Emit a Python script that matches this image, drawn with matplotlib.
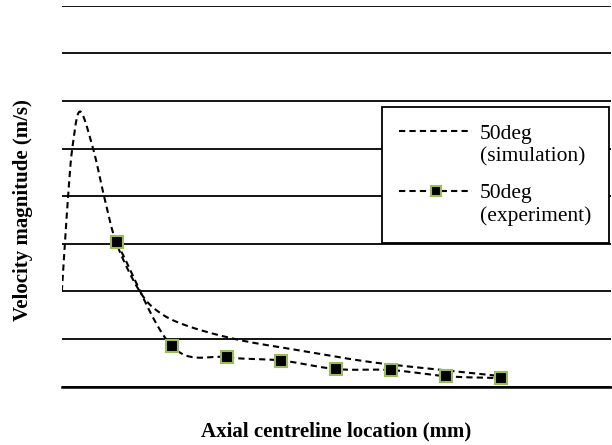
import matplotlib.pyplot as plt
import numpy as np

# Values (grid step = 1 unit, no tick labels shown)
sim_x = [0.0, 0.055, 0.115, 0.19, 0.33, 0.57, 0.77, 1.0, 1.42, 1.79, 2.33, 3.24, 4.34, 5.61, 6.94, 8.1]
sim_y = [2.0, 3.0, 4.0, 5.0, 5.78, 5.0, 4.0, 3.0, 2.0, 1.55, 1.26, 0.98, 0.76, 0.52, 0.35, 0.21]

exp_x = [1, 2, 3, 4, 5, 6, 7, 8]
exp_y = [3.03, 0.86, 0.62, 0.55, 0.37, 0.35, 0.22, 0.18]


def smooth(x, y, n=30):
    # Catmull-Rom curve through the points, like Excel's smoothed line
    x = np.asarray(x, float)
    y = np.asarray(y, float)
    px = np.concatenate([[2 * x[0] - x[1]], x, [2 * x[-1] - x[-2]]])
    py = np.concatenate([[2 * y[0] - y[1]], y, [2 * y[-1] - y[-2]]])
    t = np.linspace(0, 1, n)
    xs, ys = [], []
    for i in range(1, len(px) - 2):
        for p, out in ((px, xs), (py, ys)):
            p0, p1, p2, p3 = p[i - 1], p[i], p[i + 1], p[i + 2]
            out.extend(0.5 * (2 * p1 + (-p0 + p2) * t
                              + (2 * p0 - 5 * p1 + 4 * p2 - p3) * t ** 2
                              + (-p0 + 3 * p1 - 3 * p2 + p3) * t ** 3))
    return np.array(xs), np.array(ys)


plt.rcParams['font.family'] = ['Liberation Serif', 'DejaVu Serif']

fig = plt.figure(figsize=(6.12, 4.45), dpi=100)
ax = fig.add_axes([0.101, 0.131, 0.897, 0.856])

dash = (0, (3, 2))
sx, sy = smooth(sim_x, sim_y)
ax.plot(sx, sy, color='black', lw=1.5, ls=dash, label='50deg\n(simulation)')

ex, ey = smooth(exp_x, exp_y)
ax.plot(ex, ey, color='black', lw=1.5, ls=dash)
ax.plot(exp_x, exp_y, ls='none', marker='s', ms=8.5, mfc='black', mec='#9BBB59', mew=1.5)
# legend proxy for experiment series
ax.plot([], [], color='black', lw=1.5, ls=dash, marker='s', ms=7.5,
        mfc='black', mec='#9BBB59', mew=1.5, label='50deg\n(experiment)')

ax.set_xlim(0, 10)
ax.set_ylim(0, 8)
ax.set_yticks(np.arange(0, 9, 1))
ax.set_xticks([])
ax.yaxis.grid(True, color='black', lw=1.3)
ax.tick_params(axis='y', length=0, labelleft=False)
for s in ['left', 'right', 'top']:
    ax.spines[s].set_visible(False)
ax.spines['bottom'].set_linewidth(1.8)
ax.set_axisbelow(True)

ax.set_ylabel('Velocity magnitude (m/s)', fontsize=15, fontweight='bold')
ax.yaxis.set_label_coords(-0.052, 0.464)
ax.set_xlabel('Axial centreline location (mm)', fontsize=15, fontweight='bold', labelpad=25)

leg = ax.legend(loc='upper right', bbox_to_anchor=(0.996, 0.733), borderaxespad=0,
                fontsize=15.5, frameon=True, fancybox=False, edgecolor='black',
                handlelength=3.4, numpoints=1, labelspacing=0.8,
                borderpad=0.8, handletextpad=0.35, framealpha=1)
for t in leg.get_texts():
    t.set_linespacing(1.25)
leg.get_frame().set_linewidth(1.3)

# move legend handles up so they sit beside the first text line
for row in leg._legend_handle_box.get_children()[0].get_children():
    handlebox = row.get_children()[0]
    for art in handlebox.get_children():
        art.set_ydata(np.asarray(art.get_ydata()) + 10)

fig.savefig('out.png', dpi=100)
